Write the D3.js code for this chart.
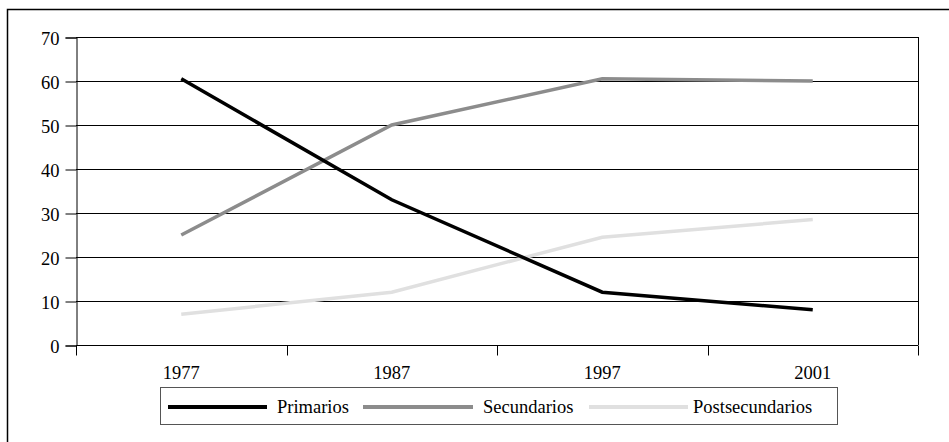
<!DOCTYPE html>
<html>
<head>
<meta charset="utf-8">
<script src="https://cdnjs.cloudflare.com/ajax/libs/d3/7.8.5/d3.min.js"></script>
<style>
  body { margin: 0; background: #fff; }
</style>
</head>
<body>
<div id="container"></div>
<script>
// Data
var years = ["1977", "1987", "1997", "2001"];
var primarios = [60.5, 33, 12, 8];
var secundarios = [25, 50, 60.5, 60];
var postsecundarios = [7, 12, 24.5, 28.5];
var yTicks = [0, 10, 20, 30, 40, 50, 60, 70];

var series = [
  { name: "Primarios", values: primarios, color: "#000000" },
  { name: "Secundarios", values: secundarios, color: "#8c8c8c" },
  { name: "Postsecundarios", values: postsecundarios, color: "#e0e0e0" }
];

var w = 949, h = 442;
var plotLeft = 76, plotRight = 918, plotTop = 37, plotBottom = 345;
var serif = "Liberation Serif, Tinos, DejaVu Serif, serif";
var fontSize = "18.5px";

var svg = d3.select("#container").append("svg")
  .attr("width", w).attr("height", h)
  .attr("font-family", serif);

// outer frame
svg.append("rect")
  .attr("x", 7.5).attr("y", 9.5)
  .attr("width", 950).attr("height", 450)
  .attr("fill", "none").attr("stroke", "#000").attr("stroke-width", 1.5);

var x = d3.scaleBand().domain(years).range([plotLeft, plotRight]);
var y = d3.scaleLinear().domain([0, 70]).range([plotBottom, plotTop]);

// gridlines
svg.selectAll("line.grid")
  .data(yTicks.filter(function(d) { return d > 0; }))
  .enter().append("line")
  .attr("x1", plotLeft).attr("x2", plotRight)
  .attr("y1", function(d) { return Math.round(y(d)) + 0.5; })
  .attr("y2", function(d) { return Math.round(y(d)) + 0.5; })
  .attr("stroke", "#000").attr("stroke-width", 1);

// right border of plot
svg.append("line")
  .attr("x1", plotRight + 0.5).attr("x2", plotRight + 0.5)
  .attr("y1", plotTop).attr("y2", plotBottom)
  .attr("stroke", "#000");

// y axis
var yAxis = svg.append("g")
  .attr("transform", "translate(" + (plotLeft + 0.5) + ",0.5)")
  .call(d3.axisLeft(y).tickValues(yTicks).tickSize(11).tickPadding(6));
yAxis.attr("font-family", serif).attr("font-size", fontSize);
yAxis.select(".domain").attr("stroke", "#000");
yAxis.selectAll("text").attr("fill", "#000").attr("dy", "0.36em");

// x axis: ticks between categories
var xAxis = svg.append("g")
  .attr("transform", "translate(0," + (plotBottom + 0.5) + ")")
  .attr("font-size", fontSize);
xAxis.append("line")
  .attr("x1", plotLeft).attr("x2", plotRight)
  .attr("stroke", "#000");
var edges = years.map(function(d) { return x(d); }).concat([x(years[years.length - 1]) + x.bandwidth()]);
xAxis.selectAll("line.tick")
  .data(edges).enter().append("line")
  .attr("x1", function(d) { return Math.round(d) + 0.5; })
  .attr("x2", function(d) { return Math.round(d) + 0.5; })
  .attr("y1", 0).attr("y2", 10)
  .attr("stroke", "#000");
xAxis.selectAll("text")
  .data(years).enter().append("text")
  .attr("x", function(d) { return x(d) + x.bandwidth() / 2; })
  .attr("y", 33)
  .attr("text-anchor", "middle")
  .text(function(d) { return d; });

// lines
var line = d3.line()
  .x(function(d, i) { return x(years[i]) + x.bandwidth() / 2; })
  .y(function(d) { return y(d); });

svg.selectAll("path.series")
  .data(series.slice().reverse())
  .enter().append("path")
  .attr("d", function(d) { return line(d.values); })
  .attr("fill", "none")
  .attr("stroke", function(d) { return d.color; })
  .attr("stroke-width", 3.5);

// legend
var legend = svg.append("g").attr("font-size", fontSize);
legend.append("rect")
  .attr("x", 160.5).attr("y", 387.5)
  .attr("width", 677).attr("height", 37)
  .attr("fill", "#fff").attr("stroke", "#555").attr("stroke-width", 1);
var legendX = [168, 363, 589];
var item = legend.selectAll("g.item")
  .data(series).enter().append("g")
  .attr("transform", function(d, i) { return "translate(" + legendX[i] + ",407)"; });
item.append("line")
  .attr("x1", 0).attr("x2", function(d, i) { return i === 1 ? 110 : 99; })
  .attr("stroke", function(d) { return d.color; })
  .attr("stroke-width", 4);
item.append("text")
  .attr("x", function(d, i) { return i === 1 ? 120 : (i === 0 ? 109 : 104); })
  .attr("y", 6)
  .text(function(d) { return d.name; });
</script>
</body>
</html>
